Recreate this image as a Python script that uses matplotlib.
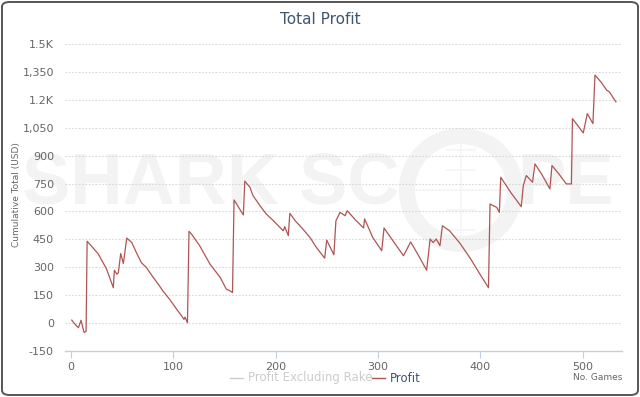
import matplotlib
matplotlib.use("Agg")
import matplotlib.pyplot as plt
from matplotlib.patches import FancyBboxPatch, Circle
from matplotlib.lines import Line2D
from matplotlib.transforms import Affine2D

# ---- data (vertices) ----
games = [1, 4, 7.5, 10, 13, 15, 16, 20, 27, 35, 41.6, 42.6, 45, 46.5, 48.8, 51.4, 54.7,
         59.6, 64, 69, 74, 80, 85.5, 90, 97, 103.5, 108.4, 110.6, 111.6, 114,
         115.5, 118, 126, 136, 146, 152, 155.6, 158,
         159.5, 162, 168.6, 170, 175, 178, 185, 191, 198, 204, 207.6, 209, 212.5,
         214, 220, 226, 233.7, 240, 248, 250, 257, 259, 263, 268, 270, 278, 286,
         287, 295, 303.7, 306, 315, 325, 332, 340, 347.6, 351, 354, 357, 360.6,
         363, 370, 380, 390, 400, 408, 409.5, 416, 418.6, 420, 430, 440, 442,
         445, 451, 453.4, 460, 468, 470, 477, 484, 489, 490, 500.6, 504.5, 510,
         512, 518, 523.4, 526, 532.5]
profit = [16, -5, -25, 15, -50, -45, 440, 415, 371, 290, 190, 284, 263, 271, 374, 320, 457,
          433, 380, 325, 298, 250, 209, 173, 125, 74, 38, 20, 32, 2,
          493, 478, 415, 317, 245, 182, 173, 164,
          662, 640, 581, 763, 730, 685, 630, 586, 550, 516, 496, 518, 470,
          590, 545, 510, 460, 406, 349, 446, 367, 550, 595, 577, 604, 555, 511,
          560, 460, 389, 511, 440, 362, 436, 360, 284, 452, 433, 452, 416,
          523, 496, 430, 350, 260, 190, 640, 622, 595, 784, 700, 626, 739,
          793, 757, 856, 800, 721, 847, 800, 748, 748, 1099, 1022, 1126, 1072,
          1333, 1295, 1252, 1243, 1189]

y_ticks = [-150, 0, 150, 300, 450, 600, 750, 900, 1050, 1200, 1350, 1500]
y_tick_labels = ["-150", "0", "150", "300", "450", "600", "750", "900",
                 "1,050", "1.2K", "1,350", "1.5K"]
x_ticks = [0, 100, 200, 300, 400, 500]

W, H = 640, 397
fig = plt.figure(figsize=(W / 100, H / 100), dpi=100)
fig.patch.set_facecolor("white")

# rounded border
fig.patches.append(FancyBboxPatch((2 / W, 2 / H), 1 - 4 / W, 1 - 4 / H,
                                  boxstyle="round,pad=0,rounding_size=0.012",
                                  transform=fig.transFigure, facecolor="white",
                                  edgecolor="#555555", linewidth=1.4, zorder=-10))

ax = fig.add_axes([65 / W, 1 - 351 / H, (622 - 65) / W, (351 - 44) / H])
ax.set_zorder(5)
ax.set_facecolor("none")
ax.set_xlim(-5.6, 538.4)
ax.set_ylim(-150, 1500)

# watermark (figure level, behind the axes)
wm_color = "#f3f3f3"
px = Affine2D().scale(1, -1).translate(0, H)  # pixel coords from top-left -> display
fig.text(22 / W, 1 - 185 / H, "SHARK SC", fontsize=52, fontweight="bold",
         color=wm_color, va="center", ha="left", family="Liberation Sans", zorder=0)
fig.text(614 / W, 1 - 185 / H, "PE", fontsize=52, fontweight="bold",
         color=wm_color, va="center", ha="right", family="Liberation Sans", zorder=0)
ring = Circle((461, 190), 54, fill=False, edgecolor=wm_color, linewidth=11.5, zorder=0)
ring.set_transform(px)
fig.patches.append(ring)
for yy in [150, 170, 210, 230]:
    fig.add_artist(Line2D([447 / W, 475 / W], [1 - yy / H, 1 - yy / H],
                          color="#f5f5f5", linewidth=1.2, zorder=0))
fig.add_artist(Line2D([461 / W, 461 / W], [1 - 140 / H, 1 - 240 / H],
                      color="#f5f5f5", linewidth=1.2, zorder=0))
fig.add_artist(Line2D([407 / W, 515 / W], [1 - 190 / H, 1 - 190 / H],
                      color="#f5f5f5", linewidth=1.2, zorder=0))

# grid
for yv in y_ticks[1:]:
    ax.axhline(yv, color="#d8d8d8", linewidth=0.8, linestyle=(0, (1.5, 1.5)), zorder=1)

ax.plot(games, profit, color="#b05454", linewidth=0.9, zorder=3)

for s in ["top", "right", "left"]:
    ax.spines[s].set_visible(False)
ax.spines["bottom"].set_color("#c0d0e0")
ax.spines["bottom"].set_linewidth(1.0)

ax.set_yticks(y_ticks)
ax.set_yticklabels(y_tick_labels)
ax.set_xticks(x_ticks)
ax.tick_params(axis="y", length=0, pad=8, labelsize=8, labelcolor="#666666")
ax.tick_params(axis="x", length=5, direction="out", color="#c0d0e0", pad=3,
               labelsize=8, labelcolor="#666666")

fig.text(17 / W, 1 - 195 / H, "Cumulative Total (USD)", rotation=90, fontsize=6.5,
         color="#666666", ha="center", va="center")

fig.text(0.5, 1 - 19 / H, "Total Profit", ha="center", va="center",
         fontsize=11, color="#3e576f")

# legend
ly = 1 - 378 / H
fig.add_artist(Line2D([230 / W, 243 / W], [ly, ly], color="#cccccc", linewidth=1))
fig.text(248 / W, ly, "Profit Excluding Rake", fontsize=8.5, color="#cccccc",
         va="center", ha="left")
fig.add_artist(Line2D([372 / W, 385 / W], [ly, ly], color="#b05454", linewidth=1))
fig.text(390 / W, ly, "Profit", fontsize=8.5, color="#3e576f", va="center", ha="left")

fig.text(622 / W, ly, "No. Games", fontsize=6.5, color="#666666", va="center", ha="right")

fig.savefig("out.png", dpi=100, facecolor="white")
